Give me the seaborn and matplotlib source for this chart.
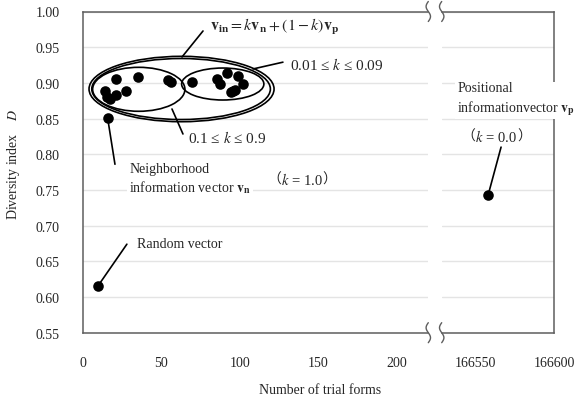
import numpy as np
import matplotlib
matplotlib.use('Agg')
import matplotlib.pyplot as plt
from matplotlib.patches import Ellipse
import seaborn as sns

# values
mix_high_x = [21.1, 34.9, 54.5, 56.0, 27.4, 14.0, 21.1, 15.1, 17.2]          # 0.1 <= k <= 0.9
mix_high_y = [0.906, 0.908, 0.904, 0.901, 0.889, 0.888, 0.8835, 0.880, 0.878]
mix_low_x = [69.4, 85.7, 91.7, 98.7, 87.4, 101.9, 97.0, 94.3, 95.5]          # 0.01 <= k <= 0.09
mix_low_y = [0.901, 0.906, 0.9135, 0.909, 0.898, 0.898, 0.8905, 0.887, 0.8885]
neigh_x, neigh_y = [15.7], [0.851]        # k = 1.0
random_x, random_y = [9.4], [0.615]
posit_x, posit_y = [166557.9], [0.7425]   # k = 0.0

left_ticks = [0, 50, 100, 150, 200]
right_ticks = [166550, 166600]
y_ticks = [0.55, 0.60, 0.65, 0.70, 0.75, 0.80, 0.85, 0.90, 0.95, 1.00]

sns.set_style('white')
plt.rcParams['font.family'] = ['Liberation Serif', 'Noto Sans CJK JP']
plt.rcParams['mathtext.fontset'] = 'stix'
plt.rcParams['font.size'] = 10

W, H = 583, 402
fig = plt.figure(figsize=(W / 100, H / 100), dpi=100)
bot, top = 333.7, 12.5
axL = fig.add_axes([83 / W, (H - bot) / H, (428.3 - 83) / W, (bot - top) / H])
axR = fig.add_axes([441.7 / W, (H - bot) / H, (554 - 441.7) / W, (bot - top) / H], sharey=axL)

spine_c = '#5e5e5e'
for ax in (axL, axR):
    ax.set_ylim(0.55, 1.00)
    ax.yaxis.grid(True, color='#e4e4e4', lw=1)
    ax.set_axisbelow(True)
    for s in ax.spines.values():
        s.set_color(spine_c)
        s.set_linewidth(1.1)
    ax.tick_params(axis='x', direction='in', length=5, color=spine_c, pad=17, labelsize=10)

axL.spines['right'].set_visible(False)
axR.spines['left'].set_visible(False)
axL.set_yticks(y_ticks)
axL.set_yticklabels(['%.2f' % v for v in y_ticks])
axL.tick_params(axis='y', direction='out', length=2, color=spine_c, pad=15, labelsize=10)
axR.tick_params(axis='y', left=False, labelleft=False)

dot = dict(color='black', s=58, linewidth=0, zorder=4, legend=False)
sns.scatterplot(x=mix_high_x, y=mix_high_y, ax=axL, **dot)
sns.scatterplot(x=mix_low_x, y=mix_low_y, ax=axL, **dot)
sns.scatterplot(x=neigh_x, y=neigh_y, ax=axL, **dot)
sns.scatterplot(x=random_x, y=random_y, ax=axL, **dot)
sns.scatterplot(x=posit_x, y=posit_y, ax=axR, **dot)
axL.set_xlim(0, 220.4)
axR.set_xlim(166528.3, 166600)
axL.set_xticks(left_ticks)
axR.set_xticks(right_ticks)
axL.set_xlabel('')
axR.set_xlabel('')

# grouping ellipses
ek = dict(fill=False, ec='black', lw=1.2, zorder=3)
axL.add_patch(Ellipse((62.9, 0.8914), 118.1, 0.0916, **ek))
axL.add_patch(Ellipse((62.6, 0.8914), 114.0, 0.0855, **ek))
axL.add_patch(Ellipse((35.6, 0.891), 58.9, 0.0616, **ek))
axL.add_patch(Ellipse((89.2, 0.8984), 52.5, 0.0448, **ek))

ln = dict(arrowprops=dict(arrowstyle='-', color='black', lw=1.2, shrinkA=0, shrinkB=0))
axL.annotate('', xy=(63.2, 0.9363), xytext=(76.6, 0.9727), **ln)
axL.annotate('', xy=(108.5, 0.9195), xytext=(127.6, 0.929), **ln)
axL.annotate('', xy=(56.8, 0.8634), xytext=(63.8, 0.8284), **ln)
axL.annotate('', xy=(15.7, 0.851), xytext=(20.4, 0.786), **ln)
axL.annotate('', xy=(9.4, 0.615), xytext=(28.0, 0.674), **ln)
axR.annotate('', xy=(166557.9, 0.7425), xytext=(166566.2, 0.810), **ln)

wb = dict(fc='white', ec='none', pad=1.5)
axL.text(81, 0.979, r'$\mathbf{v}_{\mathbf{in}}=k\mathbf{v}_{\mathbf{n}}+\left(1-k\right)\mathbf{v}_{\mathbf{p}}$',
         fontsize=11.5, va='center', ha='left')
axL.text(132, 0.9265, '0.01 ≤ $k$ ≤ 0.09', fontsize=11, va='center', ha='left', bbox=wb)
axL.text(67, 0.8242, '0.1 ≤ $k$ ≤ 0.9', fontsize=11, va='center', ha='left', bbox=wb)
axL.text(29.4, 0.766, 'Neighborhood\ninformation vector $\\mathbf{v}_{\\mathbf{n}}$',
         fontsize=10, va='center', ha='left', linespacing=1.3, bbox=wb)
axL.text(34.5, 0.6743, 'Random vector', fontsize=10, va='center', ha='left', bbox=wb)
axR.text(166538.3, 0.8774, 'Positional\ninformationvector $\\mathbf{v}_{\\mathbf{p}}$',
         fontsize=10, va='center', ha='left', linespacing=1.3, bbox=wb, clip_on=False, zorder=5)


def k_label(ax, x, y, val):
    # full-width brackets need the CJK font, k needs math italic
    cjk = ['Noto Sans CJK JP']
    t1 = ax.text(x, y, '（', family=cjk, fontsize=10, va='center', ha='left')
    t2 = ax.annotate('$k$ = %s' % val, xy=(1, 0.5), xycoords=t1, fontsize=10.5, va='center', ha='left')
    ax.annotate('）', xy=(1, 0.5), xycoords=t2, family=cjk, fontsize=10, va='center', ha='left')


k_label(axL, 117.4, 0.7653, '1.0')
k_label(axR, 166541.0, 0.8256, '0.0')

fig.text(14 / W, 1 - 164 / H, 'Diversity index    $D$', rotation=90, ha='center', va='center', fontsize=10)
fig.text(320 / W, 1 - 391 / H, 'Number of trial forms', ha='center', va='center', fontsize=10)

# axis break marks
t = np.linspace(0, 1, 40)
for x0 in (428.3, 441.7):
    for y0 in (top, bot):
        xs = x0 + 2.2 * np.sin(2 * np.pi * t)
        ys = y0 + 10 - 20 * t
        fig.add_artist(plt.Line2D(xs / W, 1 - ys / H, color=spine_c, lw=1.0, transform=fig.transFigure))

fig.savefig('out.png', dpi=100)
